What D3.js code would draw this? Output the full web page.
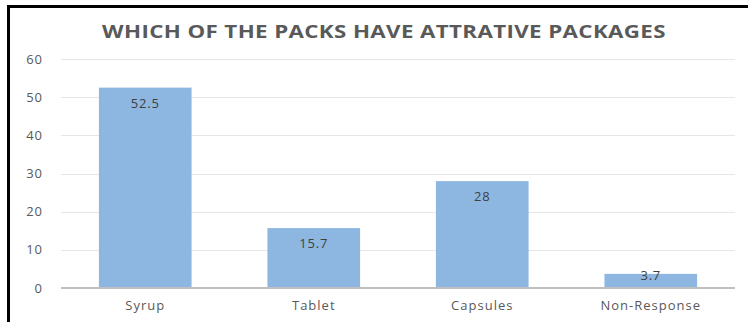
<!DOCTYPE html>
<meta charset="utf-8">
<style>
body { margin: 0; background: #fff; }
text { font-family: "Open Sans", "Noto Sans", sans-serif; }
.grid line { stroke: #e6e6e6; stroke-width: 1px; shape-rendering: crispEdges; }
.grid path { stroke-width: 0; }
.bar { fill: #8db7e1; }
.bar-text { fill: #404040; font-size: 13px; text-anchor: middle; letter-spacing: 0.8px; }
.tick-text { fill: #595959; font-size: 13px; letter-spacing: 1px; }
.title { fill: #595959; font-size: 18px; font-weight: bold; text-anchor: middle; letter-spacing: 0.3px; }
</style>
<body>
<script src="https://d3js.org/d3.v7.min.js"></script>
<script>

    var categories = ["Syrup", "Tablet", "Capsules", "Non-Response"];
    var values = [52.5, 15.7, 28, 3.7];
    var yTicks = [0, 10, 20, 30, 40, 50, 60];
    var title = "WHICH OF THE PACKS HAVE ATTRATIVE PACKAGES";

    var W = 748, H = 322;
    var margin = {top: 59, right: 13, bottom: 34, left: 61},
        width = W - margin.left - margin.right,
        height = H - margin.top - margin.bottom;

    var svg = d3.select("body").append("svg")
        .attr("width", W)
        .attr("height", H);

    // black frame (top and left only visible)
    svg.append("line").attr("x1", 7).attr("x2", W).attr("y1", 6.5).attr("y2", 6.5)
        .attr("stroke", "#000").attr("stroke-width", 3);
    svg.append("line").attr("x1", 8.5).attr("x2", 8.5).attr("y1", 5).attr("y2", H)
        .attr("stroke", "#000").attr("stroke-width", 3);

    // title is stretched horizontally like the source
    svg.append("text")
        .attr("class", "title")
        .attr("transform", "translate(384,38) scale(1.24,1)")
        .text(title);

    var g = svg.append("g")
        .attr("transform", "translate(" + margin.left + "," + margin.top + ")");

    var x = d3.scaleBand().domain(categories).range([0, width]).paddingInner(0.45).paddingOuter(0.225);
    var y = d3.scaleLinear().domain([0, 60]).range([height, 0]);

    // gridlines
    g.append("g")
        .attr("class", "grid")
        .call(d3.axisLeft(y).tickValues(yTicks).tickSize(-width).tickFormat(""));

    // y labels
    g.selectAll(".ylab")
        .data(yTicks)
        .enter().append("text")
        .attr("class", "tick-text")
        .attr("text-anchor", "end")
        .attr("x", -18)
        .attr("y", function(d) { return y(d) + 4.5; })
        .text(function(d) { return d; });

    var data = categories.map(function(c, i) { return {cat: c, val: values[i]}; });

    g.selectAll(".bar")
        .data(data)
        .enter().append("rect")
        .attr("class", "bar")
        .attr("x", function(d) { return x(d.cat); })
        .attr("width", x.bandwidth())
        .attr("y", function(d) { return y(d.val); })
        .attr("height", function(d) { return height - y(d.val); });

    // baseline
    g.append("line")
        .attr("x1", 0).attr("x2", width)
        .attr("y1", height).attr("y2", height)
        .attr("stroke", "#bfbfbf").attr("stroke-width", 2);

    g.selectAll(".bar-text")
        .data(data)
        .enter().append("text")
        .attr("class", "bar-text")
        .attr("x", function(d) { return x(d.cat) + x.bandwidth() / 2; })
        .attr("y", function(d) { return Math.min(y(d.val) + 20, height - 8); })
        .text(function(d) { return d.val; });

    g.selectAll(".xlab")
        .data(categories)
        .enter().append("text")
        .attr("class", "tick-text")
        .attr("text-anchor", "middle")
        .attr("x", function(d) { return x(d) + x.bandwidth() / 2; })
        .attr("y", height + 22)
        .text(function(d) { return d; });

</script>
</body>
